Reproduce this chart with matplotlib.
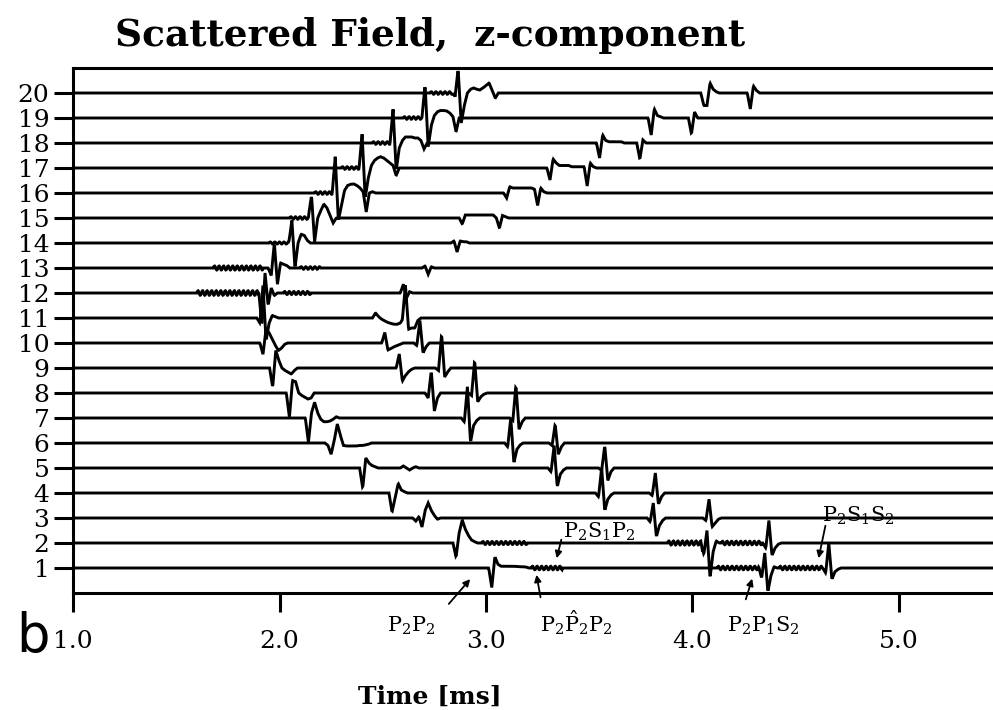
import numpy as np
import matplotlib.pyplot as plt

plt.rcParams['font.family'] = 'DejaVu Serif'
plt.rcParams['mathtext.fontset'] = 'dejavuserif'

# sample step of the arrival shapes [ms]
DT = 0.015

# arrivals per receiver: (onset [ms], amplitudes at onset + k*DT), 1 = trace spacing
trace01 = [(3.028, [-0.78, 0.45, 0.15, 0.07, 0.07, 0.07, 0.07, 0.07, 0.06, 0.05, 0.05, 0.04]),
           (4.335, [-0.4, 0.6, -0.95, -0.3, 0.05]),
           (4.645, [-0.2, 1.0, -0.45, -0.15, -0.05])]
trace02 = [(2.855, [-0.56, 0.4, 0.92, 0.55, 0.3, 0.12, 0.05]),
           (4.055, [-0.45, 0.5, -1.4, -0.35, 0.08]),
           (4.355, [-0.2, 0.9, -0.5, -0.2, -0.05])]
trace03 = [(2.66, [-0.12, 0.05, -0.36, 0.3, 0.6, 0.3, 0.1, -0.05]),
           (3.795, [-0.15, 0.6, -0.75, -0.3, -0.1]),
           (4.065, [-0.1, 0.75, -0.35, -0.2, -0.05])]
trace04 = [(2.545, [-0.76, -0.2, 0.38, 0.12, 0.05]),
           (3.545, [-0.15, 1.0, -0.7, -0.25, -0.08]),
           (3.805, [-0.1, 0.8, -0.45, -0.15])]
trace05 = [(2.403, [-0.8, 0.4, 0.2, 0.1, 0.05]),
           (2.6, [0.08, 0.0, -0.08, 0.0, 0.05]),
           (3.315, [-0.15, 0.9, -0.75, -0.25, -0.08]),
           (3.56, [-0.1, 0.9, -0.5, -0.15])]
trace06 = [(2.235, [-0.1, -0.45, 0.1, 0.76, 0.3, -0.1, -0.12, -0.12, -0.12, -0.12, -0.1, -0.1, -0.08, -0.05]),
           (3.105, [-0.15, 1.0, -0.8, -0.25, -0.08]),
           (3.32, [-0.1, 0.75, -0.45, -0.15])]
trace07 = [(2.14, [-0.97, 0.2, 0.63, 0.2, -0.05, -0.15, -0.15, -0.12, -0.05, 0.05]),
           (2.895, [-0.15, 1.25, -0.97, -0.3, -0.1]),
           (3.13, [-0.1, 1.3, -0.45, -0.15])]
trace08 = [(2.048, [-0.97, 0.5, 0.45, 0.0, -0.1, -0.17, -0.24, -0.2]),
           (2.72, [-0.2, 0.88, -0.72, -0.2]),
           (2.93, [-0.1, 1.3, -0.35, -0.15, -0.05])]
trace09 = [(1.967, [-0.77, 0.7, 0.3, 0.0, -0.1, -0.17, -0.24, -0.1]),
           (2.58, [0.56, -0.52, -0.3, -0.15, -0.05]),
           (2.77, [-0.1, 1.35, -0.36, -0.15])]
trace10 = [(1.92, [-0.45, 0.56, 0.4, 0.15, -0.1, -0.3, -0.2, -0.05]),
           (2.51, [0.42, -0.28, -0.22, -0.15, -0.1, -0.05]),
           (2.665, [-0.1, 0.9, -0.4, -0.15])]
trace11 = [(1.905, [-0.2, 1.3, -0.9, -0.2, 0.1, 0.05]),
           (2.465, [0.2, 0.05, -0.05, -0.12, -0.18, -0.22, -0.25, -0.25, -0.2]),
           (2.61, [1.3, -0.45, -0.4, -0.4, -0.1])]
trace12 = [(1.915, [-1.3, 0.8, -0.5, 0.2, -0.1]),
           (2.6, [0.35, -0.2, 0.05])]
trace13 = [(1.96, [-0.3, 1.0, -0.65, 0.2, 0.15, 0.1]),
           (2.705, [0.08, -0.25, 0.05])]
trace14 = [(2.06, [0.9, -1.0, 0.0, 0.35, 0.3, 0.1]),
           (2.845, [0.08, -0.36, 0.08, 0.05, 0.05])]
trace15 = [(2.155, [0.9, -0.95, 0.0, 0.3, 0.55, 0.4, 0.1, -0.2]),
           (2.885, [-0.24, 0.12, 0.12, 0.12, 0.12, 0.12, 0.12, 0.12, 0.12, 0.12, 0.12, 0.0, -0.4, 0.1, 0.05])]
trace16 = [(2.27, [1.45, -1.1, -0.5, 0.1, 0.3, 0.35, 0.36, 0.3, 0.2, 0.05, -0.76, 0.0, 0.05]),
           (3.10, [-0.2, 0.25, 0.2, 0.2, 0.2, 0.2, 0.2, 0.2, 0.2, 0.15, -0.5, 0.2, 0.05])]
trace17 = [(2.40, [1.35, -1.2, -0.4, 0.1, 0.3, 0.4, 0.45, 0.4, 0.3, 0.2, 0.1, -0.3]),
           (3.31, [-0.48, 0.36, 0.2, 0.1, 0.1, 0.1, 0.1, 0.05, 0.05, 0.05, 0.05, 0.05, -0.72, 0.2, 0.05])]
trace18 = [(2.55, [1.35, -1.1, -0.2, 0.1, 0.24, 0.24, 0.24, 0.2, 0.2, 0.1, -0.24]),
           (3.55, [-0.6, 0.32, 0.1, 0.05, 0.05, 0.05, 0.05, 0.05, 0.0, 0.0, 0.0, 0.0, 0.0, -0.64, 0.12])]
trace19 = [(2.705, [1.32, -1.15, -0.3, 0.1, 0.25, 0.3, 0.3, 0.28, 0.2, 0.05, -0.55]),
           (3.80, [-0.68, 0.36, 0.1, 0.05, 0.0, 0.0, 0.0, 0.0, 0.0, 0.0, 0.0, 0.0, 0.0, -0.64, 0.24])]
trace20 = [(2.85, [-0.15, 0.95, -1.2, -0.5, 0.0, 0.15, 0.2, 0.15, 0.12, 0.2, 0.3, 0.4, 0.1, -0.2]),
           (4.055, [-0.5, -0.5, 0.4, 0.15, 0.05]),
           (4.28, [-0.64, 0.28, 0.1])]

# low-level ringing: (start [ms], end [ms], amplitude)
rings = {1: [(3.22, 3.37, 0.07), (4.12, 4.33, 0.07), (4.42, 4.63, 0.07)],
         2: [(2.98, 3.2, 0.06), (3.88, 4.05, 0.08), (4.14, 4.34, 0.07)],
         12: [(1.6, 1.9, 0.09), (2.02, 2.15, 0.06)],
         13: [(1.68, 1.92, 0.08), (2.1, 2.2, 0.05)],
         14: [(1.95, 2.05, 0.04)],
         15: [(2.05, 2.15, 0.05)],
         16: [(2.17, 2.26, 0.05)],
         17: [(2.3, 2.39, 0.05)],
         18: [(2.45, 2.54, 0.05)],
         19: [(2.6, 2.70, 0.05)],
         20: [(2.73, 2.85, 0.05)]}
RING_PERIOD = 0.022

traces = [trace01, trace02, trace03, trace04, trace05, trace06, trace07, trace08, trace09, trace10,
          trace11, trace12, trace13, trace14, trace15, trace16, trace17, trace18, trace19, trace20]

t = np.arange(1.0, 5.6, 0.002)


def seismogram(arrivals, ring_list):
    y = np.zeros_like(t)
    for t0, amps in arrivals:
        kt = t0 + DT * np.arange(-1, len(amps) + 1)
        kv = np.concatenate([[0.0], amps, [0.0]])
        y += np.interp(t, kt, kv, left=0.0, right=0.0)
    for ts, te, a in ring_list:
        m = (t >= ts) & (t <= te)
        y[m] += a * np.sin(2 * np.pi * (t[m] - ts) / RING_PERIOD)
    return y


fig = plt.figure(figsize=(9.93, 7.10), dpi=100)
ax = fig.add_axes([73 / 993, 117 / 710, 1 - 73 / 993, 525 / 710])

for k, arr in enumerate(traces, start=1):
    ax.plot(t, k + seismogram(arr, rings.get(k, [])), color='black', lw=2.1, solid_joinstyle='miter')

ax.set_xlim(1.0, 1.0 + 920 / 206.5)
ax.set_ylim(0, 21)
for side in ['left', 'bottom', 'top']:
    ax.spines[side].set_linewidth(2.2)
ax.spines['right'].set_visible(False)

ax.set_yticks(range(1, 21))
ax.set_yticklabels([str(k) for k in range(1, 21)])
ax.set_xticks([1, 2, 3, 4, 5])
ax.set_xticklabels(['1.0', '2.0', '3.0', '4.0', '5.0'])
ax.tick_params(axis='y', length=14, width=2.2, direction='out', pad=3, labelsize=18)
ax.tick_params(axis='x', length=14, width=2.2, direction='out', pad=13, labelsize=18)

fig.text(430 / 993, 1 - 36 / 710, 'Scattered Field,  z-component', ha='center', va='center',
         fontsize=27, fontweight='bold')
fig.text(430 / 993, 1 - 697 / 710, 'Time [ms]', ha='center', va='center', fontsize=18, fontweight='bold')
fig.text(16 / 993, 1 - 652 / 710, 'b', ha='left', va='baseline', fontsize=38, family='DejaVu Sans')


# phase labels with arrows (text position, arrow tail, arrow head) in pixels
def px(x, y):
    return ((x - 73) / 206.5 + 1.0, (593 - y) / 25.0)


labels = [(r'$\mathrm{P_2P_2}$', (387, 632), (447, 606), (472, 577)),
          (r'$\mathrm{P_2\hat{P}_2P_2}$', (540, 632), (541, 600), (536, 572)),
          (r'$\mathrm{P_2P_1S_2}$', (727, 632), (745, 602), (753, 576)),
          (r'$\mathrm{P_2S_1P_2}$', (563, 538), (562, 537), (556, 561)),
          (r'$\mathrm{P_2S_1S_2}$', (822, 522), (826, 523), (818, 561))]
for txt, pos, tail, head in labels:
    ax.text(*px(*pos), txt, fontsize=15, ha='left', va='baseline', clip_on=False)
    ax.annotate('', xy=px(*head), xytext=px(*tail), annotation_clip=False,
                arrowprops=dict(arrowstyle='-|>', color='black', lw=1.3, mutation_scale=10))

fig.savefig('out.png', dpi=100)
